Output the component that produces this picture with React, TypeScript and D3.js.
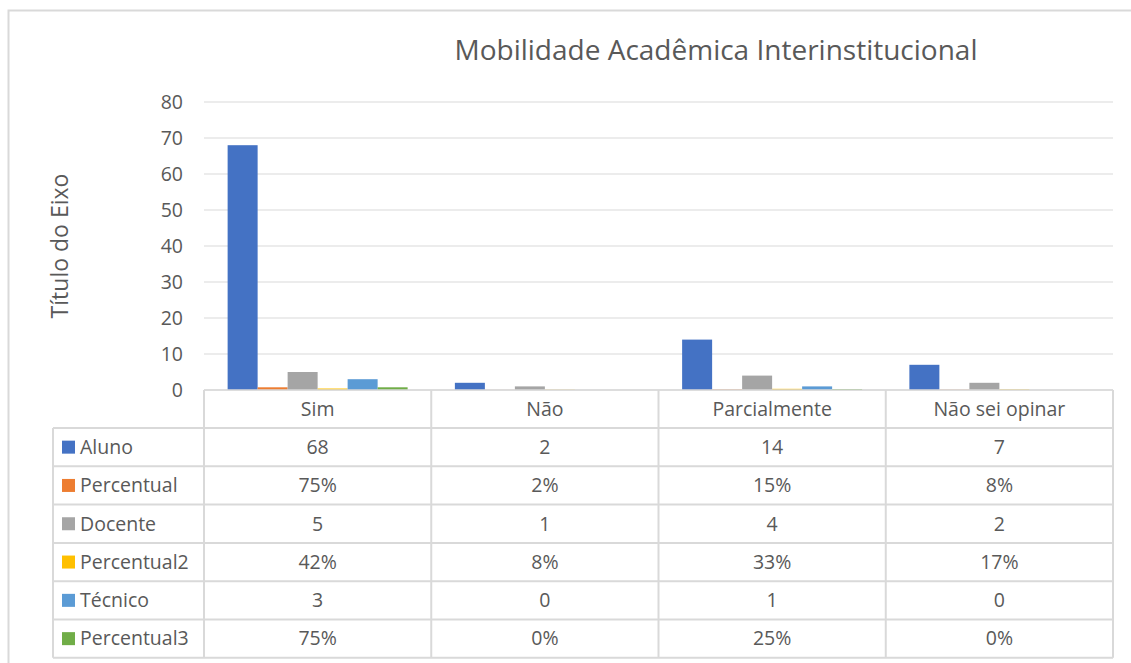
import * as d3 from 'd3'

const categories = ['Sim', 'Não', 'Parcialmente', 'Não sei opinar']
const seriesNames = ['Aluno', 'Percentual', 'Docente', 'Percentual2', 'Técnico', 'Percentual3']
const seriesColors = ['#4472C4', '#ED7D31', '#A5A5A5', '#FFC000', '#5B9BD5', '#70AD47']

// counts and shares (shares are plotted as fractions, so they sit on the baseline)
const aluno = [68, 2, 14, 7]
const percentual = [0.75, 0.02, 0.15, 0.08]
const docente = [5, 1, 4, 2]
const percentual2 = [0.42, 0.08, 0.33, 0.17]
const tecnico = [3, 0, 1, 0]
const percentual3 = [0.75, 0, 0.25, 0]

const tableLabels = [
  ['68', '2', '14', '7'],
  ['75%', '2%', '15%', '8%'],
  ['5', '1', '4', '2'],
  ['42%', '8%', '33%', '17%'],
  ['3', '0', '1', '0'],
  ['75%', '0%', '25%', '0%']
]

const yTicks = [0, 10, 20, 30, 40, 50, 60, 70, 80]

const title = 'Mobilidade Acadêmica Interinstitucional'
const yTitle = 'Título do Eixo'

const App = () => {
  const values = [aluno, percentual, docente, percentual2, tecnico, percentual3]
  const font = "'Open Sans', 'Noto Sans', sans-serif"
  const textColor = '#595959'
  const lineColor = '#d9d9d9'
  const fs = 19.5

  // MARGINS / PLOT AREA
  const plot = { left: 204, right: 1113, top: 102, bottom: 390 }
  const tableLeft = 53
  const headerH = 38
  const rowH = 38.3

  const x0 = d3.scaleBand()
    .domain(categories)
    .range([plot.left, plot.right])
    .paddingInner(0)
    .paddingOuter(0)

  const barW = 30
  const groupPad = (x0.bandwidth() - barW * seriesNames.length) / 2
  const x1 = d3.scaleBand()
    .domain(seriesNames)
    .range([groupPad, x0.bandwidth() - groupPad])

  const y = d3.scaleLinear()
    .domain([0, 80])
    .range([plot.bottom, plot.top])

  const boundaries = categories.map(c => x0(c))
  boundaries.push(plot.right)

  const tableTop = plot.bottom + headerH
  const tableBottom = tableTop + rowH * seriesNames.length

  return (
    <svg width={1131} height={663} style={{ position: 'absolute', left: 0, top: 0, display: 'block' }}>
      <rect x={0} y={0} width={1131} height={663} fill='#fff' />
      {/* outer chart frame */}
      <rect x={8.5} y={10.5} width={1200} height={800} fill='none' stroke={lineColor} strokeWidth={2} />

      <text x={716} y={60} textAnchor='middle' fontFamily={font} fontSize={28} fill={textColor}>{title}</text>

      {/* gridlines and y ticks */}
      {yTicks.map(t => (
        <g key={t}>
          <line x1={plot.left} x2={plot.right} y1={y(t)} y2={y(t)} stroke={lineColor} strokeWidth={1} />
          <text x={183} y={y(t)} dy='0.35em' textAnchor='end' fontFamily={font} fontSize={fs} fill={textColor}>{t}</text>
        </g>
      ))}

      <text transform={`translate(68, ${(plot.top + plot.bottom) / 2}) rotate(-90)`} textAnchor='middle'
        fontFamily={font} fontSize={23} fill={textColor}>{yTitle}</text>

      {/* bars */}
      {values.map((vals, si) => (
        <g key={seriesNames[si]} fill={seriesColors[si]}>
          {vals.map((v, ci) => {
            const h = plot.bottom - y(v)
            return (
              <rect key={ci}
                x={x0(categories[ci]) + x1(seriesNames[si])}
                y={y(v)}
                width={x1.bandwidth()}
                height={h} />
            )
          })}
        </g>
      ))}

      {/* data table */}
      <g stroke={lineColor} strokeWidth={2}>
        {boundaries.map((b, i) => (
          <line key={'v' + i} x1={b} x2={b} y1={plot.bottom} y2={tableBottom} />
        ))}
        <line x1={tableLeft} x2={tableLeft} y1={tableTop} y2={tableBottom} />
        {seriesNames.map((s, i) => (
          <line key={'h' + i} x1={tableLeft} x2={plot.right} y1={tableTop + rowH * i} y2={tableTop + rowH * i} />
        ))}
        <line x1={tableLeft} x2={plot.right} y1={tableBottom} y2={tableBottom} />
      </g>
      <line x1={plot.left} x2={plot.right} y1={plot.bottom} y2={plot.bottom} stroke={lineColor} strokeWidth={1.5} />

      {categories.map(c => (
        <text key={c} x={x0(c) + x0.bandwidth() / 2} y={plot.bottom + headerH / 2} dy='0.35em'
          textAnchor='middle' fontFamily={font} fontSize={fs} fill={textColor}>{c}</text>
      ))}

      {seriesNames.map((s, si) => {
        const cy = tableTop + rowH * si + rowH / 2
        return (
          <g key={s}>
            <rect x={62} y={cy - 6.5} width={13} height={13} fill={seriesColors[si]} />
            <text x={80} y={cy} dy='0.35em' fontFamily={font} fontSize={fs} fill={textColor}>{s}</text>
            {tableLabels[si].map((lbl, ci) => (
              <text key={ci} x={x0(categories[ci]) + x0.bandwidth() / 2} y={cy} dy='0.35em'
                textAnchor='middle' fontFamily={font} fontSize={fs} fill={textColor}>{lbl}</text>
            ))}
          </g>
        )
      })}
    </svg>
  )
}

export default App
